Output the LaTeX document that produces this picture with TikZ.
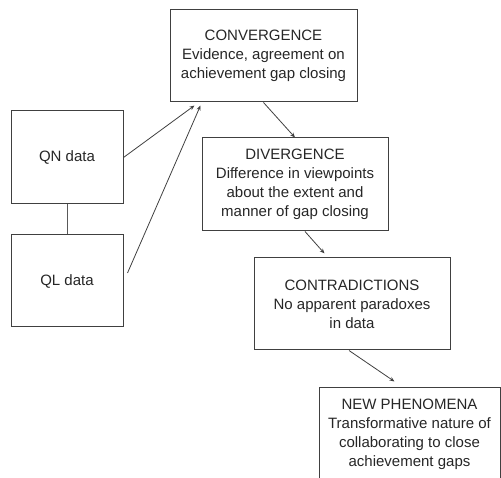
\documentclass[tikz,border=0pt]{standalone}
\usepackage{fontspec}
\setmainfont{Liberation Sans}
\usetikzlibrary{arrows.meta}
\begin{document}
\begin{tikzpicture}[x=1pt,y=1pt,
  box/.style={draw=black!75, line width=1pt, align=center, inner sep=0pt,
    font=\fontsize{15}{19}\selectfont, text=black!85},
  conn/.style={draw=black!75, line width=0.8pt, -{Stealth[length=5pt,width=4pt]}},
  plain/.style={draw=black!65, line width=1pt}]
\useasboundingbox (0,0) rectangle (501,477);
\node[box, minimum width=187pt, minimum height=92pt] (conv) at (263.5,421) {CONVERGENCE\\Evidence, agreement on\\achievement gap closing};
\node[box, minimum width=112pt, minimum height=93pt] (qn) at (67,319.5) {QN data};
\node[box, minimum width=112pt, minimum height=92pt] (ql) at (67,196) {QL data};
\node[box, minimum width=186pt, minimum height=93pt] (div) at (295,292.5) {DIVERGENCE\\Difference in viewpoints\\about the extent and\\manner of gap closing};
\node[box, minimum width=196pt, minimum height=92pt] (contra) at (352,173) {CONTRADICTIONS\\No apparent paradoxes\\in data};
\node[box, minimum width=181pt, minimum height=92pt] (new) at (409.5,43) {NEW PHENOMENA\\Transformative nature of\\collaborating to close\\achievement gaps};
\draw[plain] (qn.south) -- (ql.north);
\draw[conn] (qn.east) -- ([xshift=25pt,yshift=-3pt]conv.south west);
\draw[conn] ([xshift=4pt,yshift=8pt]ql.east) -- ([xshift=31pt,yshift=-3pt]conv.south west);
\draw[conn] (conv.south) -- (div.north);
\draw[conn] ([xshift=10pt]div.south) -- ([xshift=71pt,yshift=4pt]contra.north west);
\draw[conn] ([xshift=-3pt]contra.south) -- ([xshift=76pt,yshift=6pt]new.north west);
\end{tikzpicture}
\end{document}
